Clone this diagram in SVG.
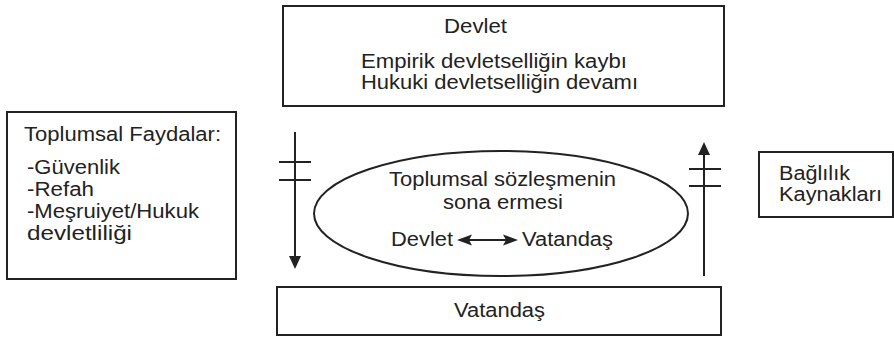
<svg xmlns="http://www.w3.org/2000/svg" width="894" height="337" viewBox="0 0 894 337">
<style>
.box{fill:#fff;stroke:#222;stroke-width:2}
.t{font-family:"Liberation Sans",Arial,sans-serif;font-size:20px;fill:#222}
.ln{stroke:#222;stroke-width:2;fill:none}
.ah{fill:#222;stroke:none}
</style>
<rect width="894" height="337" fill="#fff"/>
<g id="devlet">
<rect class="box" x="283" y="6" width="441" height="100"/>
<text class="t" x="444" y="33" textLength="63" lengthAdjust="spacingAndGlyphs">Devlet</text>
<text class="t" x="361" y="68" textLength="266" lengthAdjust="spacingAndGlyphs">Empirik devletselliğin kaybı</text>
<text class="t" x="361" y="89" textLength="277" lengthAdjust="spacingAndGlyphs">Hukuki devletselliğin devamı</text>
</g>
<g id="faydalar">
<rect class="box" x="7" y="112" width="229" height="167"/>
<text class="t" x="24" y="141" textLength="197" lengthAdjust="spacingAndGlyphs">Toplumsal Faydalar:</text>
<text class="t" x="27" y="174" textLength="93" lengthAdjust="spacingAndGlyphs">-Güvenlik</text>
<text class="t" x="27" y="196" textLength="67" lengthAdjust="spacingAndGlyphs">-Refah</text>
<text class="t" x="27" y="218" textLength="172" lengthAdjust="spacingAndGlyphs">-Meşruiyet/Hukuk</text>
<text class="t" x="27" y="240" textLength="105" lengthAdjust="spacingAndGlyphs">devletliliği</text>
</g>
<g id="sozlesme">
<ellipse class="box" cx="501" cy="213.5" rx="187" ry="62.5"/>
<text class="t" x="389" y="186" textLength="227" lengthAdjust="spacingAndGlyphs">Toplumsal sözleşmenin</text>
<text class="t" x="443" y="209" textLength="120" lengthAdjust="spacingAndGlyphs">sona ermesi</text>
<text class="t" x="391" y="246" textLength="62" lengthAdjust="spacingAndGlyphs">Devlet</text>
<text class="t" x="522" y="246" textLength="91" lengthAdjust="spacingAndGlyphs">Vatandaş</text>
<line class="ln" x1="466" y1="240" x2="510" y2="240"/>
<path class="ah" d="M457,240 L472,234.5 L469,240 L472,245.5 Z"/>
<path class="ah" d="M518,240 L503,234.5 L506,240 L503,245.5 Z"/>
</g>
<g id="vatandas">
<rect class="box" x="277" y="287" width="444" height="48"/>
<text class="t" x="454" y="317" textLength="91" lengthAdjust="spacingAndGlyphs">Vatandaş</text>
</g>
<g id="baglilik">
<rect class="box" x="759" y="152" width="134" height="65"/>
<text class="t" x="779" y="180" textLength="71" lengthAdjust="spacingAndGlyphs">Bağlılık</text>
<text class="t" x="779" y="201" textLength="103" lengthAdjust="spacingAndGlyphs">Kaynakları</text>
</g>
<g id="connectors">
<line class="ln" x1="295" y1="132" x2="295" y2="258"/>
<path class="ah" d="M289,256 L301,256 L295,269 Z"/>
<line class="ln" x1="279" y1="162" x2="311" y2="162"/>
<line class="ln" x1="279" y1="180" x2="311" y2="180"/>
<line class="ln" x1="704" y1="276" x2="704" y2="153"/>
<path class="ah" d="M698,155 L710,155 L704,142 Z"/>
<line class="ln" x1="689" y1="169" x2="721" y2="169"/>
<line class="ln" x1="689" y1="186" x2="721" y2="186"/>
</g>
</svg>
